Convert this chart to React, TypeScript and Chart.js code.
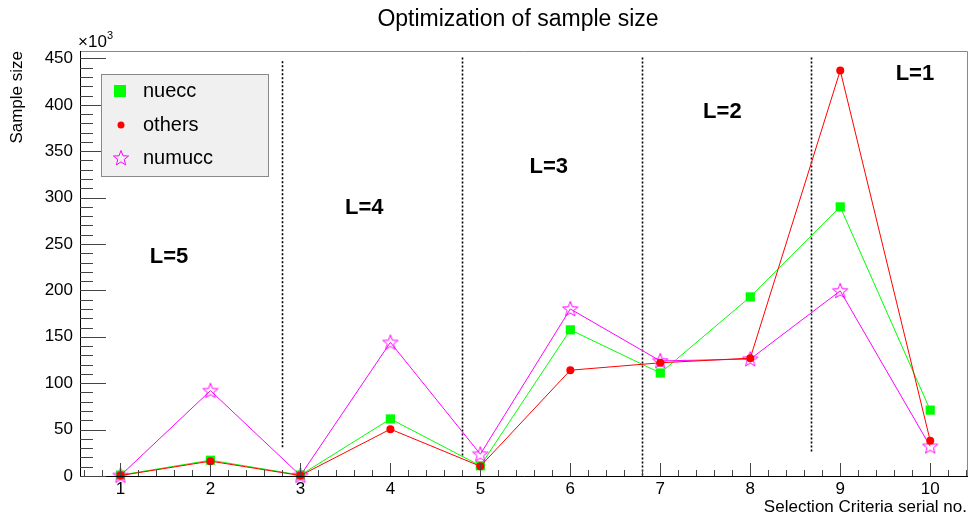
import React, { useEffect, useRef } from "react";
import { Chart, registerables } from "chart.js";

Chart.register(...registerables);

const criteria = [1, 2, 3, 4, 5, 6, 7, 8, 9, 10];
const nuecc = [1, 17, 1, 61.5, 11, 157.5, 111, 193, 290, 71];
const others = [0.5, 16, 0.5, 50.5, 10.5, 114, 122, 127, 437, 38];
const numucc = [0.5, 92, 0.5, 144, 23.5, 180, 124, 126, 199.5, 32];

const xTicks = [1, 2, 3, 4, 5, 6, 7, 8, 9, 10];
const yTicks = [0, 50, 100, 150, 200, 250, 300, 350, 400, 450];
const xMinor = 0.2;
const yMinor = 10;

const dividerX = [2.8, 4.8, 6.8, 8.68];
const dividerTop = [447, 451, 451, 451];
const dividerBottom = [30, 20, 0, 25];

const levelLabels = ["L=5", "L=4", "L=3", "L=2", "L=1"];
const levelX = [1.54, 3.71, 5.76, 7.69, 9.83];
const levelY = [236, 289, 333, 392, 433];

const seriesNames = ["nuecc", "others", "numucc"];
const FONT = "'Liberation Sans', Arial, Helvetica, sans-serif";

function makeStar(size: number, color: string): HTMLCanvasElement {
  const c = document.createElement("canvas");
  c.width = size;
  c.height = size;
  const g = c.getContext("2d")!;
  const cx = size / 2, cy = size / 2 + 0.5;
  const ro = size / 2 - 1, ri = ro * 0.42;
  g.beginPath();
  for (let i = 0; i < 10; i++) {
    const r = i % 2 === 0 ? ro : ri;
    const a = -Math.PI / 2 + (i * Math.PI) / 5;
    const px = cx + r * Math.cos(a), py = cy + r * Math.sin(a);
    if (i === 0) g.moveTo(px, py); else g.lineTo(px, py);
  }
  g.closePath();
  g.strokeStyle = color;
  g.lineWidth = 1;
  g.stroke();
  return c;
}

export default function App() {
  const ref = useRef<HTMLCanvasElement | null>(null);

  useEffect(() => {
    document.body.style.margin = "0";
    const star = makeStar(18, "#ff00ff");

    const overlay = {
      id: "rootStyle",
      beforeDatasetsDraw(chart: any) {
        const ctx = chart.ctx;
        const xs = chart.scales.x, ys = chart.scales.y;
        ctx.save();
        ctx.strokeStyle = "#000";
        ctx.lineWidth = 1.6;
        ctx.setLineDash([2, 2]);
        dividerX.forEach((dx, i) => {
          const px = Math.round(xs.getPixelForValue(dx)) + 0.5;
          ctx.beginPath();
          ctx.moveTo(px, ys.getPixelForValue(dividerTop[i]));
          ctx.lineTo(px, ys.getPixelForValue(dividerBottom[i]));
          ctx.stroke();
        });
        ctx.restore();
      },
      afterDraw(chart: any) {
        const ctx = chart.ctx;
        const a = chart.chartArea;
        const xs = chart.scales.x, ys = chart.scales.y;
        ctx.save();
        // frame
        ctx.strokeStyle = "#888";
        ctx.lineWidth = 1;
        ctx.beginPath();
        ctx.moveTo(a.left, a.top + 0.5);
        ctx.lineTo(a.right - 0.5, a.top + 0.5);
        ctx.lineTo(a.right - 0.5, a.bottom);
        ctx.stroke();
        // axes
        ctx.strokeStyle = "#000";
        ctx.beginPath();
        ctx.moveTo(a.left + 0.5, a.top);
        ctx.lineTo(a.left + 0.5, a.bottom + 0.5);
        ctx.lineTo(a.right, a.bottom + 0.5);
        ctx.stroke();
        // y ticks
        ctx.strokeStyle = "#444";
        for (let v = 0; v <= ys.max + 1e-6; v += yMinor) {
          const major = Math.abs(v % 50) < 1e-6;
          const py = Math.round(ys.getPixelForValue(v)) + 0.5;
          ctx.beginPath();
          ctx.moveTo(a.left, py);
          ctx.lineTo(a.left + (major ? 26 : 13), py);
          ctx.stroke();
        }
        // x ticks
        const startX = Math.ceil(xs.min / xMinor) * xMinor;
        for (let v = startX; v <= xs.max + 1e-6; v += xMinor) {
          const r = Math.round(v * 10) / 10;
          const major = Math.abs(r - Math.round(r)) < 1e-6;
          const px = Math.round(xs.getPixelForValue(r)) + 0.5;
          ctx.beginPath();
          ctx.moveTo(px, a.bottom);
          ctx.lineTo(px, a.bottom - (major ? 13 : 6));
          ctx.stroke();
        }
        // level labels
        ctx.fillStyle = "#000";
        ctx.font = `bold 22px ${FONT}`;
        ctx.textAlign = "center";
        ctx.textBaseline = "middle";
        levelLabels.forEach((t, i) => {
          ctx.fillText(t, xs.getPixelForValue(levelX[i]), ys.getPixelForValue(levelY[i]));
        });
        // title
        ctx.font = `23px ${FONT}`;
        ctx.textBaseline = "alphabetic";
        ctx.fillText("Optimization of sample size", 518, 26);
        // x title
        ctx.font = `17px ${FONT}`;
        ctx.textAlign = "right";
        ctx.fillText("Selection Criteria serial no.", a.right - 1, 512);
        // y title
        ctx.save();
        ctx.translate(22, a.top);
        ctx.rotate(-Math.PI / 2);
        ctx.textAlign = "right";
        ctx.fillText("Sample size", 0, 0);
        ctx.restore();
        // x10^3
        ctx.textAlign = "left";
        ctx.font = `17px ${FONT}`;
        ctx.fillText("\u00d710", a.left - 2, 47);
        ctx.font = `11px ${FONT}`;
        ctx.fillText("3", a.left + 27, 39);
        // legend
        const lx = 101, ly = 74, lw = 167, lh = 102;
        ctx.fillStyle = "#f0f0f0";
        ctx.fillRect(lx, ly, lw, lh);
        ctx.strokeStyle = "#888";
        ctx.strokeRect(lx + 0.5, ly + 0.5, lw, lh);
        const rows = [91, 125, 158];
        ctx.font = `20px ${FONT}`;
        ctx.textBaseline = "middle";
        ctx.fillStyle = "#000";
        seriesNames.forEach((n, i) => ctx.fillText(n, 143, rows[i]));
        ctx.fillStyle = "#00ff00";
        ctx.fillRect(114, rows[0] - 6, 12, 12);
        ctx.fillStyle = "#ff0000";
        ctx.beginPath();
        ctx.arc(121, rows[1], 3.5, 0, Math.PI * 2);
        ctx.fill();
        ctx.drawImage(star, 112, rows[2] - 9);
        ctx.restore();
      },
    };

    const chart = new Chart(ref.current!, {
      type: "line",
      data: {
        labels: criteria,
        datasets: [
          {
            label: seriesNames[0],
            data: criteria.map((x, i) => ({ x, y: nuecc[i] })),
            borderColor: "#00ff00",
            backgroundColor: "#00ff00",
            borderWidth: 1,
            pointStyle: "rect",
            pointRadius: 6.5,
            pointBorderWidth: 0,
            order: 2,
            clip: false,
          },
          {
            label: seriesNames[2],
            data: criteria.map((x, i) => ({ x, y: numucc[i] })),
            borderColor: "#ff00ff",
            backgroundColor: "#ff00ff",
            borderWidth: 1,
            pointStyle: star as any,
            pointRadius: 9,
            order: 1,
            clip: false,
          },
          {
            label: seriesNames[1],
            data: criteria.map((x, i) => ({ x, y: others[i] })),
            borderColor: "#ff0000",
            backgroundColor: "#ff0000",
            borderWidth: 1,
            pointStyle: "circle",
            pointRadius: 4,
            pointBorderWidth: 0,
            order: 0,
            clip: false,
          },
        ],
      },
      options: {
        animation: false,
        responsive: false,
        layout: { autoPadding: false, padding: { left: 0, right: 5, top: 51, bottom: 0 } },
        plugins: { legend: { display: false }, tooltip: { enabled: false }, title: { display: false } },
        elements: { line: { tension: 0 } },
        scales: {
          x: {
            type: "linear",
            min: 0.55,
            max: 10.42,
            grid: { display: false, drawTicks: false },
            border: { display: false },
            ticks: { color: "#000", font: { family: FONT, size: 17 }, padding: 3, maxRotation: 0, autoSkip: false },
            afterBuildTicks: (s: any) => { s.ticks = xTicks.map((v) => ({ value: v })); },
            afterFit: (s: any) => { s.height = 44; },
          },
          y: {
            type: "linear",
            min: 0,
            max: 458,
            grid: { display: false, drawTicks: false },
            border: { display: false },
            ticks: { color: "#000", font: { family: FONT, size: 17 }, padding: 7 },
            afterBuildTicks: (s: any) => { s.ticks = yTicks.map((v) => ({ value: v })); },
            afterFit: (s: any) => { s.width = 80; },
          },
        },
      },
      plugins: [overlay],
    } as any);

    return () => chart.destroy();
  }, []);

  return (
    <div style={{ width: 973, height: 520, background: "#fff" }}>
      <canvas ref={ref} width={973} height={520} style={{ display: "block" }} />
    </div>
  );
}
